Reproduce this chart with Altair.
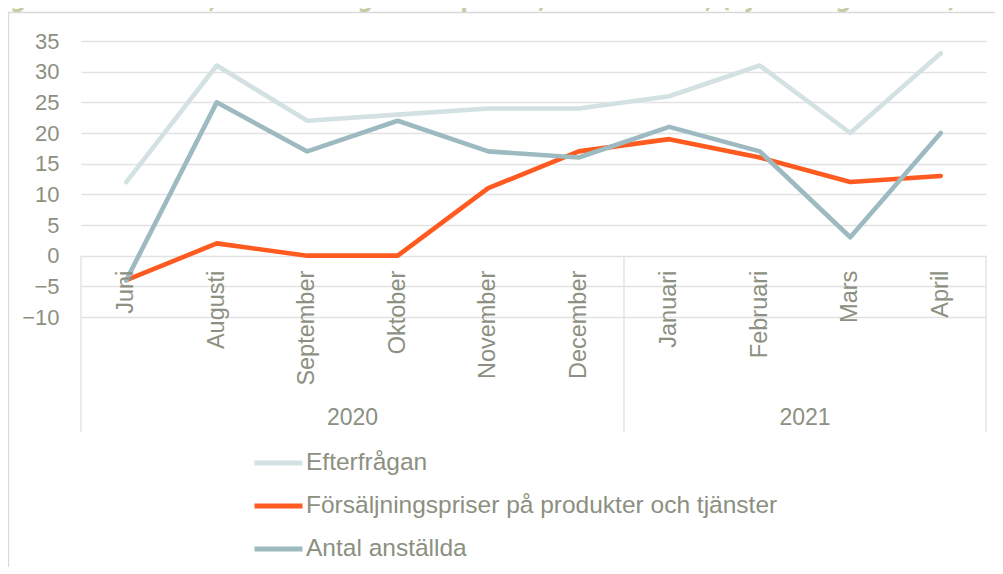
import altair as alt
import pandas as pd

# ---- data ----
months = ["Juni", "Augusti", "September", "Oktober", "November", "December",
          "Januari", "Februari", "Mars", "April"]
efterfragan = [12, 31, 22, 23, 24, 24, 26, 31, 20, 33]
priser = [-4, 2, 0, 0, 11, 17, 19, 16, 12, 13]
anstallda = [-4, 25, 17, 22, 17, 16, 21, 17, 3, 20]
series_names = ["Efterfrågan", "Försäljningspriser på produkter och tjänster", "Antal anställda"]
series_colors = ["#D3E1E3", "#FF5A1F", "#9DBAC0"]
y_ticks = [-10, -5, 0, 5, 10, 15, 20, 25, 30, 35]
year_labels = ["2020", "2021"]
year_anchor_months = ["Oktober", "Mars"]   # group centre = left edge of these bands
title_text = "Figur 3 – Nettotal, förväntningar och planer, 2020 - 2021, (ej säsongsrensat)"

# ---- style ----
TEXT = "#8B9081"
GRID = "#E2E2E2"
FONT = "Liberation Sans"
W, H = 905, 391
Y_MIN, Y_MAX = -28.75, 35
HALF = W / len(months) / 2

rows = []
for name, vals in zip(series_names, [efterfragan, priser, anstallda]):
    for m, v in zip(months, vals):
        rows.append({"month": m, "series": name, "value": v})
df = pd.DataFrame(rows)

xs = alt.Scale(type="point", domain=months, padding=0.5)
ys = alt.Scale(domain=[Y_MIN, Y_MAX], nice=False, zero=False)

frame = alt.Chart(pd.DataFrame({"a": [0]})).mark_rect(
    fillOpacity=0, stroke="#D9D9D9", strokeWidth=1.3
).encode(x=alt.value(-72.5), x2=alt.value(W + 200), y=alt.value(-28.5), y2=alt.value(H + 400))

lines = alt.Chart(df).mark_line(strokeWidth=4.6, strokeCap="round", strokeJoin="round").encode(
    x=alt.X("month:N", sort=months, scale=xs, axis=None),
    y=alt.Y("value:Q", scale=ys, axis=alt.Axis(
        values=y_ticks, grid=True, gridColor=GRID, gridWidth=1.4, domain=False,
        ticks=False, tickSize=0, labelFontSize=22, labelColor=TEXT, labelFont=FONT,
        labelPadding=22, title=None)),
    color=alt.Color("series:N", scale=alt.Scale(domain=series_names, range=series_colors),
                    sort=series_names,
                    legend=alt.Legend(orient="none", legendX=171, legendY=410, title=None,
                                      direction="vertical", symbolType="stroke",
                                      symbolSize=2304, symbolStrokeWidth=5,
                                      labelFontSize=24.5, labelColor=TEXT, labelFont=FONT,
                                      labelLimit=0, clipHeight=24, rowPadding=18,
                                      labelOffset=1, padding=0, offset=0)),
    order=alt.Order("series_order:Q"),
).transform_calculate(
    series_order="indexof(" + str(series_names) + ", datum.series)"
)

mdf = pd.DataFrame({"month": months})
month_text = alt.Chart(mdf).mark_text(
    angle=270, align="right", baseline="middle", yOffset=15,
    fontSize=23.5, font=FONT, color=TEXT
).encode(x=alt.X("month:N", sort=months, scale=xs, axis=None), y=alt.datum(0), text="month:N")

sep_left = alt.Chart(pd.DataFrame({"month": ["Juni", "Januari"]})).mark_rule(
    color=GRID, strokeWidth=1.4, xOffset=-HALF
).encode(x=alt.X("month:N", sort=months, scale=xs, axis=None), y=alt.datum(0), y2=alt.datum(Y_MIN))
sep_right = alt.Chart(pd.DataFrame({"month": ["April"]})).mark_rule(
    color=GRID, strokeWidth=1.4, xOffset=HALF
).encode(x=alt.X("month:N", sort=months, scale=xs, axis=None), y=alt.datum(0), y2=alt.datum(Y_MIN))

year_text = alt.Chart(pd.DataFrame({"month": year_anchor_months, "year": year_labels})).mark_text(
    xOffset=-HALF, yOffset=-14, baseline="middle", align="center",
    fontSize=23, font=FONT, color=TEXT
).encode(x=alt.X("month:N", sort=months, scale=xs, axis=None), y=alt.datum(Y_MIN), text="year:N")

title = alt.Chart(pd.DataFrame({"t": [title_text]})).mark_text(
    align="left", baseline="alphabetic", fontSize=25, fontWeight="bold",
    font="Liberation Sans Narrow, Arial Narrow, DejaVu Sans Condensed, Liberation Sans",
    color="#C9CBA5"
).encode(x=alt.value(-94), y=alt.value(-34), text="t:N")

chart = alt.layer(frame, sep_left, sep_right, lines, month_text, year_text, title).properties(
    width=W, height=H,
    padding={"left": 73, "top": 33, "right": 9, "bottom": 135},
    autosize=alt.AutoSizeParams(type="none"),
).configure_view(stroke=None)

chart.save("out.html", embed_options={"renderer": "svg", "actions": False})
